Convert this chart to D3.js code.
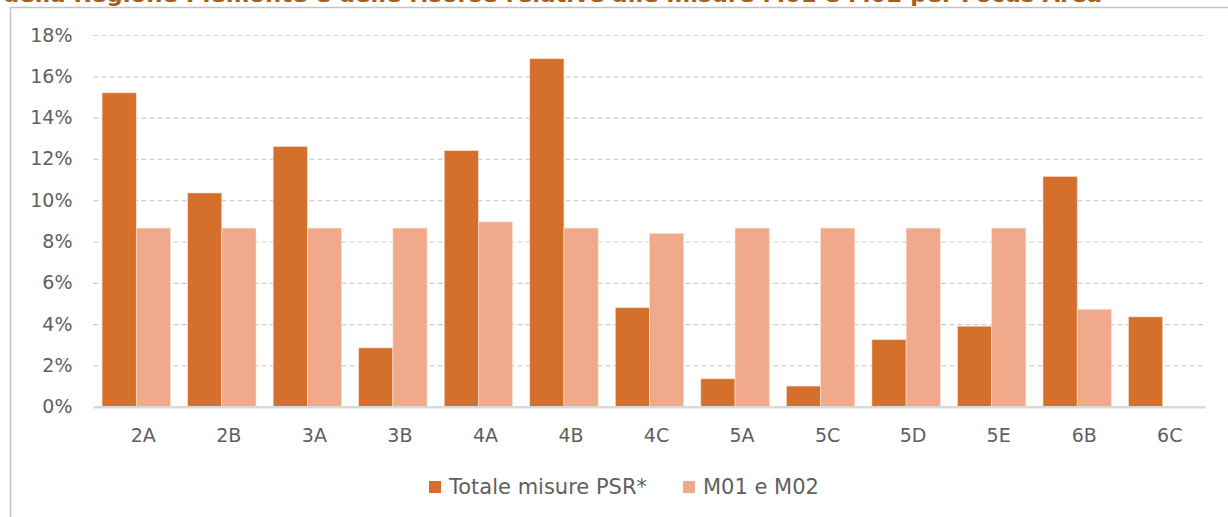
<!DOCTYPE html>
<html>
<head>
<meta charset="utf-8">
<script src="https://cdn.jsdelivr.net/npm/d3@7"></script>
<style>
body{margin:0;background:#fff}
svg{display:block;font-family:"DejaVu Sans",sans-serif}
</style>
</head>
<body>
<div id="chart"></div>
<script>

const title="della Regione Piemonte e delle risorse relative alle misure M01 e M02 per Focus Area"

const categories=["2A","2B","3A","3B","4A","4B","4C","5A","5C","5D","5E","6B","6C"]
const seriesNames=["Totale misure PSR*","M01 e M02"]
const totale=[15.2,10.35,12.6,2.85,12.4,16.85,4.8,1.35,1.0,3.25,3.9,11.15,4.35]
const m01m02=[8.65,8.65,8.65,8.65,8.95,8.65,8.4,8.65,8.65,8.65,8.65,4.72,0]
const yTicks=[0,2,4,6,8,10,12,14,16,18]

const colors=["#d4702b","#f0a98a"]

const width=1228
const height=517

const svg=d3.select("#chart")
.append("svg")
.attr("width",width)
.attr("height",height)

// outer frame (cut by the window on right and bottom)
svg.append("rect")
.attr("x",10.5)
.attr("y",7.5)
.attr("width",1300)
.attr("height",600)
.attr("fill","none")
.attr("stroke","#c4c4c4")
.attr("stroke-width",1.5)

// title, only its lower part is inside the picture
svg.append("text")
.attr("x",3)
.attr("y",2)
.attr("font-size",22)
.attr("font-weight","bold")
.attr("fill","#a45e1e")
.attr("textLength",1099)
.attr("lengthAdjust","spacingAndGlyphs")
.text(title)

const x=d3.scaleBand()
.domain(categories)
.range([93.5,1205.5])
.paddingInner(0.2)
.paddingOuter(0.1)

const x1=d3.scaleBand()
.domain([0,1])
.range([0,x.bandwidth()])

const y=d3.scaleLinear()
.domain([0,18])
.range([406.7,35])

// gridlines + y labels
const yAxis=svg.append("g")
.attr("transform","translate(93.5,0)")
.call(d3.axisLeft(y)
.tickValues(yTicks)
.tickSize(-1112)
.tickPadding(21)
.tickFormat(d=>d+"%"))

yAxis.select(".domain").remove()
yAxis.selectAll(".tick line")
.attr("stroke","#cdcdcd")
.attr("stroke-width",1.2)
.attr("stroke-dasharray","5,3")
.filter(d=>d===0).remove()
yAxis.selectAll(".tick text")
.attr("font-size",19)
.attr("fill","#5f5f5f")
.attr("font-family","DejaVu Sans")

// bars
const rows=categories.map((c,i)=>({cat:c,vals:[totale[i],m01m02[i]]}))

const groups=svg.append("g")
.selectAll("g")
.data(rows)
.enter()
.append("g")
.attr("transform",d=>"translate("+x(d.cat)+",0)")

groups.selectAll("rect")
.data(d=>d.vals.map((v,k)=>({k:k,v:v})))
.enter()
.append("rect")
.attr("x",d=>x1(d.k))
.attr("width",x1.bandwidth())
.attr("y",d=>y(d.v))
.attr("height",d=>y(0)-y(d.v))
.attr("fill",d=>colors[d.k])
.attr("stroke",d=>d.v>0?"#fbe3d6":"none")
.attr("stroke-width",0.6)

// baseline
svg.append("line")
.attr("x1",93.5)
.attr("x2",1205.5)
.attr("y1",y(0)+0.5)
.attr("y2",y(0)+0.5)
.attr("stroke","#d9d9d9")
.attr("stroke-width",2.5)

// x labels
const xAxis=svg.append("g")
.attr("transform","translate(7,"+y(0)+")")
.call(d3.axisBottom(x).tickSize(0).tickPadding(22))

xAxis.select(".domain").remove()
xAxis.selectAll(".tick text")
.attr("font-size",19)
.attr("fill","#5f5f5f")
.attr("font-family","DejaVu Sans")

// legend
const legendX=[429,683]
const legend=svg.append("g")
.selectAll("g")
.data(seriesNames)
.enter()
.append("g")
.attr("transform",(d,i)=>"translate("+legendX[i]+",481)")

legend.append("rect")
.attr("width",12)
.attr("height",12)
.attr("fill",(d,i)=>colors[i])

legend.append("text")
.attr("x",20)
.attr("y",13)
.attr("font-size",21)
.attr("fill","#5f5f5f")
.text(d=>d)

</script>
</body>
</html>
